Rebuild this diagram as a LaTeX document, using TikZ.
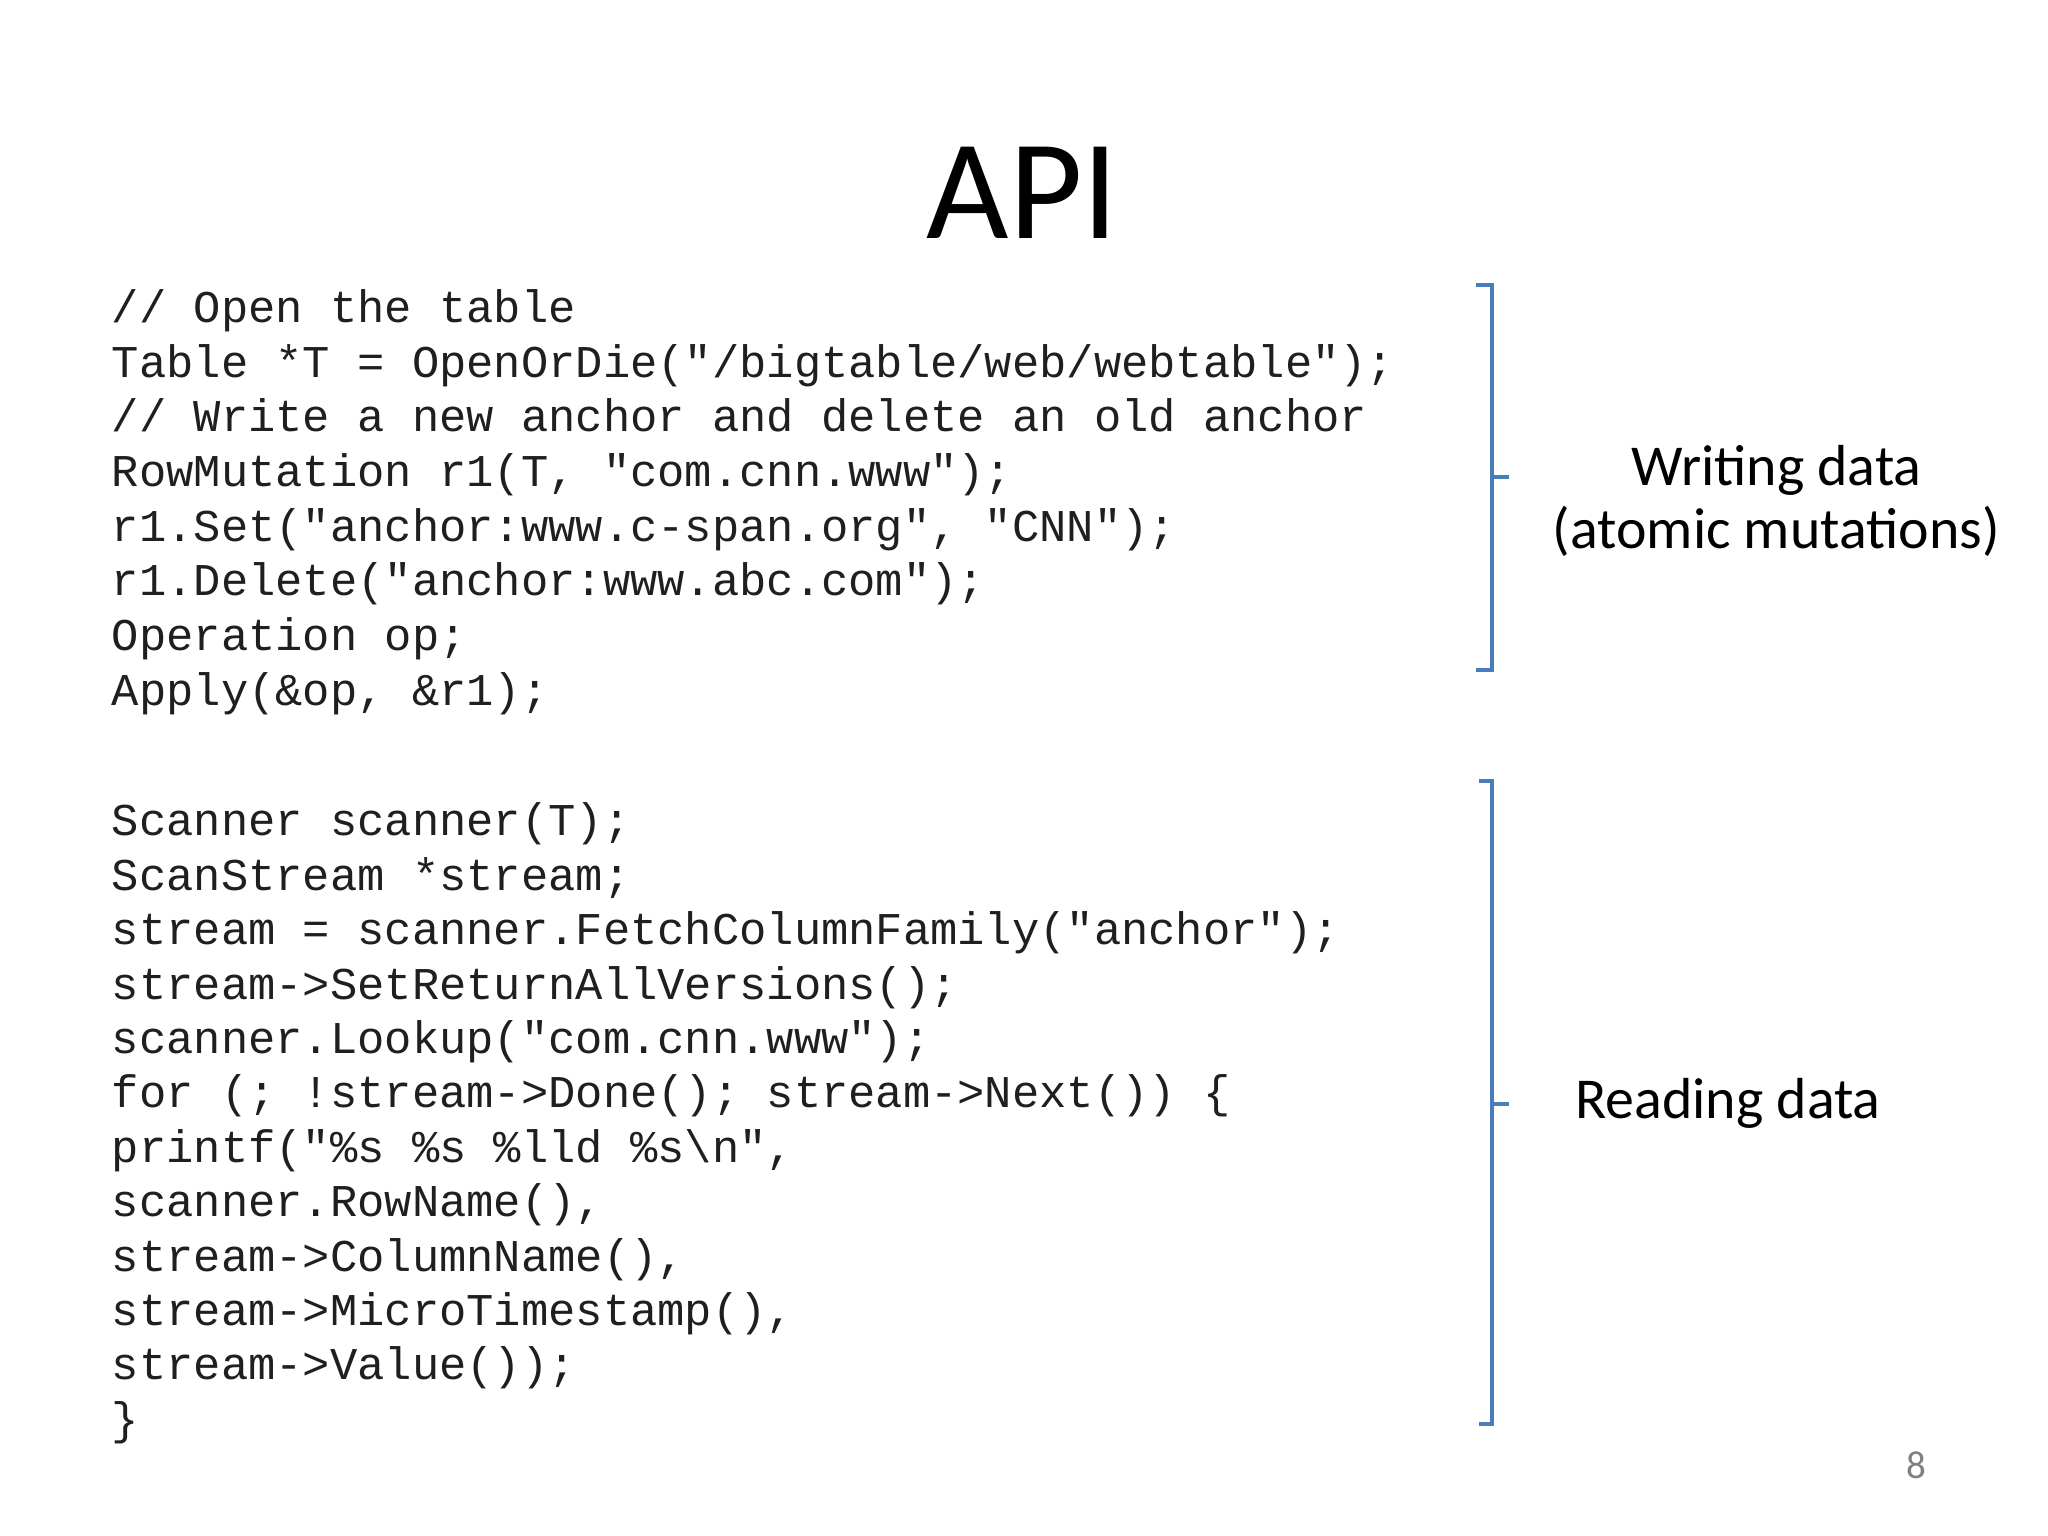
\documentclass[tikz,border=0pt]{standalone}
\usepackage{fontspec}
\setmainfont{Carlito}
\newfontfamily\code{Liberation Mono}
\definecolor{brk}{HTML}{4A7EBB}
\begin{document}
\begin{tikzpicture}[x=0.01cm,y=-0.01cm,
  codeln/.style={anchor=base west,inner sep=0,font=\code\fontsize{9.9pt}{12pt}\selectfont,text=black!88},
  lbl/.style={font=\fontsize{12.6pt}{15pt}\selectfont,inner sep=0},
  brkline/.style={draw=brk,line width=0.9pt}]
\useasboundingbox (0,0) rectangle (1568,1176);
\node[font=\fontsize{31pt}{36pt}\selectfont,inner sep=0] (title) at (783,148) {API};
\foreach \t [count=\i from 0] in {
  {// Open the table},
  {Table *T = OpenOrDie("/bigtable/web/webtable");},
  {// Write a new anchor and delete an old anchor},
  {RowMutation r1(T, "com.cnn.www");},
  {r1.Set("anchor:www.c-span.org", "CNN");},
  {r1.Delete("anchor:www.abc.com");},
  {Operation op;},
  {Apply(\&op, \&r1);}}
  \node[codeln] (w\i) at (85,247+41.85*\i) {\t};
\foreach \t [count=\i from 0] in {
  {Scanner scanner(T);},
  {ScanStream *stream;},
  {stream = scanner.FetchColumnFamily("anchor");},
  {stream->SetReturnAllVersions();},
  {scanner.Lookup("com.cnn.www");},
  {for (; !stream->Done(); stream->Next()) \{},
  {printf("\%s \%s \%lld \%s\textbackslash n",},
  {scanner.RowName(),},
  {stream->ColumnName(),},
  {stream->MicroTimestamp(),},
  {stream->Value());},
  {\}}}
  \node[codeln] (r\i) at (85,640+41.65*\i) {\t};
\coordinate (b1t) at (1130,218); \coordinate (b1b) at (1130,513);
\coordinate (b1m) at (1155,365);
\draw[brkline] (b1t) -- ++(12,0) |- (b1b);
\draw[brkline] (1142,365) -- (b1m);
\coordinate (b2t) at (1132,598); \coordinate (b2b) at (1132,1090);
\coordinate (b2m) at (1155,845);
\draw[brkline] (b2t) -- ++(10,0) |- (b2b);
\draw[brkline] (1142,845) -- (b2m);
\node[lbl] (wd1) at (1360,360) {Writing data};
\node[lbl] (wd2) at (1360,407) {(atomic mutations)};
\node[lbl] (rd) at (1323,845) {Reading data};
\node[font=\fontsize{8.5pt}{10pt}\selectfont,text=black!50,inner sep=0] (pg) at (1467,1122) {8};
\end{tikzpicture}
\end{document}
